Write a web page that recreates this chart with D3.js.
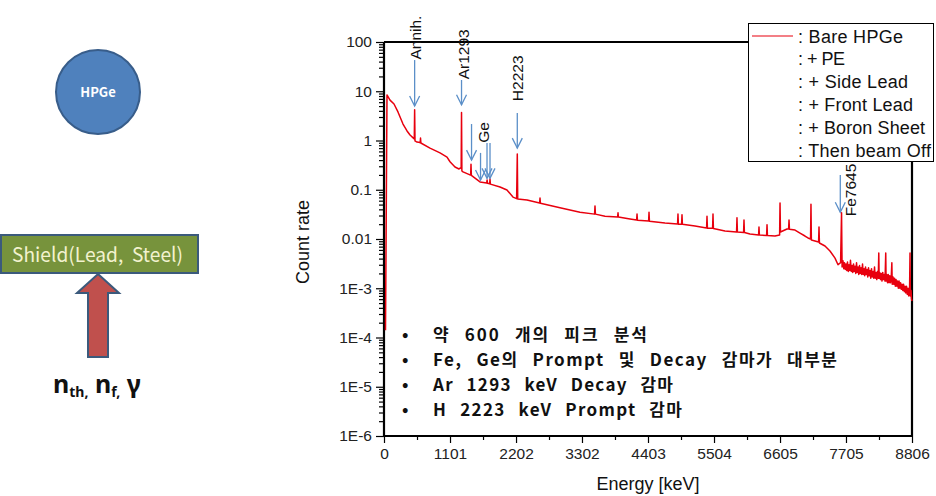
<!DOCTYPE html>
<html><head><meta charset="utf-8">
<script src="https://cdn.jsdelivr.net/npm/d3@7"></script>
<style>body{margin:0;background:#fff} svg{display:block}</style>
</head><body>
<svg id="c" width="936" height="496"></svg>
<script>
// ---------------- data ----------------
const specEnergy = [25,50,100,167,233,317,384,434,490,505,511,517,550,600,603,609,615,767,934,1051,1101,1184,1251,1275,1287,1293,1299,1318,1434,1445,1451,1457,1601,1712,1720,1726,1762,1768,1774,1935,2051,2151,2212,2223,2230,2385,2595,2602,2609,2935,3269,3512,3519,3526,3686,3896,3903,3910,4103,4213,4220,4227,4413,4420,4427,4686,4896,4903,4910,4963,4970,4977,5187,5380,5387,5394,5480,5487,5494,5687,5880,5887,5894,5997,6004,6011,6104,6247,6254,6261,6381,6388,6395,6521,6598,6605,6612,6721,6748,6755,6762,6855,6938,7021,7071,7114,7121,7128,7188,7248,7255,7262,7355,7438,7522,7572,7615,7631,
  7640,7655,7668,7680,7693,7705,7718,7730,7743,7755,7768,7780,7793,7806,7818,7831,7843,7856,7868,7881,7893,7906,7918,7931,7943,7956,7968,7981,7993,8006,8018,8031,8043,8056,8068,8081,8093,8106,8118,8131,8143,8156,8168,8181,8193,8206,8218,8231,8243,8252,8258,8268,8281,8293,8306,8318,8331,8343,8356,8368,8374,8385,8398,8410,8423,8435,8448,8460,8470,8476,8490,8503,8515,8528,8540,8553,8565,8578,8590,8603,8615,8628,8640,8653,8665,8678,8690,8703,8715,8728,8740,8753,8765,8773,8779,8790,8798,8806];
const specCount = [1.4e-4,8.4,6.6,5.5,3.8,2.16,1.56,1.29,1.12,1.08,4.2,0.98,0.93,0.91,0.90,1.12,0.89,0.70,0.56,0.46,0.37,0.29,0.264,0.28,0.27,3.7,0.24,0.23,0.20,0.20,0.33,0.195,0.144,0.137,0.158,0.135,0.133,0.165,0.13,0.114,0.099,0.071,0.066,0.53,0.065,0.062,0.054,0.068,0.053,0.043,0.035,0.032,0.047,0.032,0.029,0.028,0.034,0.028,0.0255,0.0243,0.032,0.024,0.0232,0.035,0.023,0.0211,0.0202,0.032,0.020,0.020,0.031,0.020,0.0184,0.0167,0.029,0.0166,0.0165,0.032,0.0163,0.0145,0.0139,0.027,0.0138,0.0136,0.0243,0.0135,0.0126,0.0121,0.0175,0.012,0.0118,0.0194,0.0118,0.0115,0.012,0.054,0.0139,0.016,0.016,0.0243,0.0158,0.0152,0.0132,0.0115,0.0105,0.0100,0.051,0.0095,0.0091,0.0087,0.0175,0.0083,0.0072,0.0057,0.0041,0.0030,0.0033,0.034,
  0.0027,0.0036,0.0025,0.0033,0.0024,0.0031,0.0023,0.0034,0.0022,0.0030,0.0023,0.0037,0.0022,0.0029,0.0021,0.0031,0.0022,0.0028,0.0020,0.0033,0.0021,0.0027,0.0019,0.0029,0.0020,0.0026,0.0019,0.0031,0.0019,0.0025,0.0018,0.0027,0.0019,0.0024,0.0017,0.0026,0.0018,0.0023,0.0016,0.0025,0.0017,0.0022,0.0016,0.0027,0.0016,0.0021,0.0015,0.0022,0.0016,0.0052,0.0016,0.0021,0.0015,0.0020,0.0014,0.0021,0.0015,0.0019,0.0014,0.0052,0.0014,0.0019,0.0013,0.0019,0.0013,0.0018,0.0013,0.0017,0.0033,0.0012,0.0017,0.0012,0.0016,0.0011,0.0015,0.0011,0.0014,0.0010,0.0014,0.0010,0.0013,0.00095,0.0012,0.0009,0.0012,0.00085,0.0011,0.0008,0.0011,0.00075,0.0010,0.0007,0.0009,0.0052,0.0007,0.0009,0.0006,0.00055];

const xTickValues = [0,1101,2202,3302,4403,5504,6605,7705,8806];
const xTickLabels = ["0","1101","2202","3302","4403","5504","6605","7705","8806"];
const yTickValues = [1e-6,1e-5,1e-4,1e-3,0.01,0.1,1,10,100];
const yTickLabels = ["1E-6","1E-5","1E-4","1E-3","0.01","0.1","1","10","100"];

const legendLabels = [": Bare HPGe",": + PE",": + Side Lead",": + Front Lead",": + Boron Sheet",": Then beam Off"];
const legendHasLine = [true,false,false,false,false,false];

const peakLabels = ["Annih.","Ar1293","Ge","H2223","Fe7645"];
const peakEnergies = [511,1293,1640,2223,7645];

const arrowEnergies = [511,1293,1460,1610,1718,1768,2223,7610];
const arrowTailCounts = [43,16.9,2.16,0.56,0.89,0.89,3.6,0.2];
const arrowTipCounts = [5.0,5.3,0.40,0.158,0.17,0.17,0.70,0.035];

const bulletLines = ["약 600 개의 피크 분석","Fe, Ge의 Prompt 및 Decay 감마가 대부분","Ar 1293 keV Decay 감마","H 2223 keV Prompt 감마"];

// ---------------- layout ----------------
const svg = d3.select("#c");
const L = 384, R = 912, T = 42, B = 436;
const x = d3.scaleLinear().domain([0, 8806]).range([L, R]);
const y = d3.scaleLog().domain([1e-6, 100]).range([B, T]);
const plotFont = "'Liberation Sans', Arial, sans-serif";
const krFont = "'Noto Sans CJK KR', 'Noto Sans', sans-serif";

// ---------- left diagram ----------
const diag = svg.append("g");
diag.append("circle").attr("cx", 98).attr("cy", 92).attr("r", 42)
  .attr("fill", "#4f81bd").attr("stroke", "#385d8a").attr("stroke-width", 2);
diag.append("text").attr("x", 98).attr("y", 97).attr("text-anchor", "middle")
  .attr("font-family", krFont).attr("font-weight", 700).attr("font-size", 13)
  .attr("fill", "#fff").text("HPGe");
diag.append("rect").attr("x", 1).attr("y", 235).attr("width", 197).attr("height", 38)
  .attr("fill", "#77933c").attr("stroke", "#3b5a7c").attr("stroke-width", 2);
diag.append("text").attr("x", 12).attr("y", 262).style("white-space", "pre")
  .attr("font-family", krFont).attr("font-size", 20).attr("fill", "#f2f2cf")
  .attr("textLength", 171).attr("lengthAdjust", "spacingAndGlyphs")
  .text("Shield(Lead,  Steel)");
diag.append("polygon")
  .attr("points", [[98,274],[119,293],[108,293],[108,357],[88,357],[88,293],[77,293]].map(p=>p.join(",")).join(" "))
  .attr("fill", "#c0504d").attr("stroke", "#3b5a7c").attr("stroke-width", 2);
const nt = diag.append("text").attr("x", 53).attr("y", 393)
  .attr("font-family", "'Noto Sans', sans-serif").attr("font-weight", 700).attr("fill", "#111");
nt.append("tspan").attr("font-size", 25).text("n");
nt.append("tspan").attr("font-size", 14).attr("dy", 4).text("th,");
nt.append("tspan").attr("font-size", 25).attr("dy", -4).text(" n");
nt.append("tspan").attr("font-size", 14).attr("dy", 4).text("f,");
nt.append("tspan").attr("font-size", 25).attr("dy", -4).text(" γ");

// ---------- axes ----------
const minorY = [];
for (let e = -6; e < 2; e++) for (let k = 2; k <= 9; k++) minorY.push(k * Math.pow(10, e));
const minorX = xTickValues.slice(0, -1).map((v, i) => (v + xTickValues[i + 1]) / 2);

const yAxis = svg.append("g").attr("transform", `translate(${L},0)`)
  .call(d3.axisLeft(y).tickValues(yTickValues).tickSize(8).tickPadding(4)
    .tickFormat((d, i) => yTickLabels[i]));
svg.append("g").attr("transform", `translate(${L},0)`)
  .call(d3.axisLeft(y).tickValues(minorY).tickSize(5).tickFormat(""))
  .call(g => g.select(".domain").remove());
const xAxis = svg.append("g").attr("transform", `translate(0,${B})`)
  .call(d3.axisBottom(x).tickValues(xTickValues).tickSize(7).tickPadding(5)
    .tickFormat((d, i) => xTickLabels[i]));
svg.append("g").attr("transform", `translate(0,${B})`)
  .call(d3.axisBottom(x).tickValues(minorX).tickSize(4).tickFormat(""))
  .call(g => g.select(".domain").remove());
svg.selectAll(".tick line").attr("stroke", "#000").attr("stroke-width", 1.2);
svg.selectAll(".domain").attr("stroke", "#000").attr("stroke-width", 2.2);
[yAxis, xAxis].forEach(g => g.selectAll(".tick text")
  .attr("font-family", plotFont).attr("font-size", 15.5).attr("fill", "#222"));
yAxis.select(".domain").attr("d", `M0,${T}V${B}`);
xAxis.select(".domain").attr("d", `M${L},0H${R}`);
// top & right frame
svg.append("line").attr("x1", L).attr("x2", R).attr("y1", T).attr("y2", T)
  .attr("stroke", "#000").attr("stroke-width", 2.2);
svg.append("line").attr("x1", R).attr("x2", R).attr("y1", T).attr("y2", B)
  .attr("stroke", "#000").attr("stroke-width", 2.2);

// axis titles
svg.append("text").attr("x", 648).attr("y", 490).attr("text-anchor", "middle")
  .attr("font-family", plotFont).attr("font-size", 18).attr("fill", "#111").text("Energy [keV]");
svg.append("text").attr("transform", "translate(309,242) rotate(-90)").attr("text-anchor", "middle")
  .attr("font-family", plotFont).attr("font-size", 18).attr("fill", "#111").text("Count rate");

// ---------- spectrum ----------
const spec = specEnergy.map((e, i) => [e, specCount[i]]);
svg.append("path").datum(spec)
  .attr("d", d3.line().x(d => x(d[0])).y(d => y(d[1])))
  .attr("fill", "none").attr("stroke", "#e8000e").attr("stroke-width", 1.5)
  .attr("stroke-linejoin", "round");

// ---------- annotations ----------
const arrowColor = "#5b8fc8";
const ag = svg.append("g").attr("stroke", arrowColor).attr("stroke-width", 1.3).attr("fill", "none");
arrowEnergies.forEach((e, i) => {
  const ax = x(e), y1 = y(arrowTailCounts[i]), y2 = y(arrowTipCounts[i]);
  ag.append("line").attr("x1", ax).attr("x2", ax).attr("y1", y1).attr("y2", y2);
  ag.append("path").attr("d", `M${ax-5},${y2-10}L${ax},${y2}L${ax+5},${y2-10}`);
});
// label placement: baseline offset (px) and bottom (count value)
const labelDx = [6, 7, 7, 6, 14];
const labelBottomCount = [44, 17.5, 0.9, 6.3, 0.029];
peakLabels.forEach((t, i) => {
  svg.append("text")
    .attr("transform", `translate(${x(peakEnergies[i]) + labelDx[i]},${y(labelBottomCount[i])}) rotate(-90)`)
    .attr("font-family", plotFont).attr("font-size", 15.5).attr("fill", "#111").text(t);
});

// ---------- legend ----------
const lg = svg.append("g");
lg.append("rect").attr("x", 748.5).attr("y", 23.5).attr("width", 185).attr("height", 138)
  .attr("fill", "#fff").attr("stroke", "#000").attr("stroke-width", 1);
legendLabels.forEach((t, i) => {
  const cy = 36 + i * 22.8;
  if (legendHasLine[i]) lg.append("line").attr("x1", 752).attr("x2", 793).attr("y1", cy).attr("y2", cy)
    .attr("stroke", "#e8000e").attr("stroke-width", 1.2);
  lg.append("text").attr("x", 798).attr("y", cy + 6.5)
    .attr("font-family", plotFont).attr("font-size", 18).attr("fill", "#111")
    .attr("textLength", [105, 47, 110, 115, 127, 133][i]).attr("lengthAdjust", "spacing").text(t);
});

// ---------- bullet text ----------
const bulletWidths = [214, 404, 240, 249];
bulletLines.forEach((t, i) => {
  const by = 341 + i * 25;
  svg.append("text").attr("x", 402).attr("y", by).attr("font-family", krFont)
    .attr("font-size", 17).attr("font-weight", 700).attr("fill", "#111").text("•");
  const tx = svg.append("text").attr("x", 433).attr("y", by).attr("font-family", krFont)
    .attr("font-size", 17).attr("font-weight", 700).attr("fill", "#111").text(t);
  const nat = tx.node().getComputedTextLength();
  const spaces = (t.match(/ /g) || []).length;
  const extra = bulletWidths[i] - nat;
  if (extra > 0) {
    tx.style("letter-spacing", (extra * 0.45 / (t.length - 1)) + "px");
    tx.style("word-spacing", (extra * 0.55 / spaces) + "px");
  }
});
</script>
</body></html>
